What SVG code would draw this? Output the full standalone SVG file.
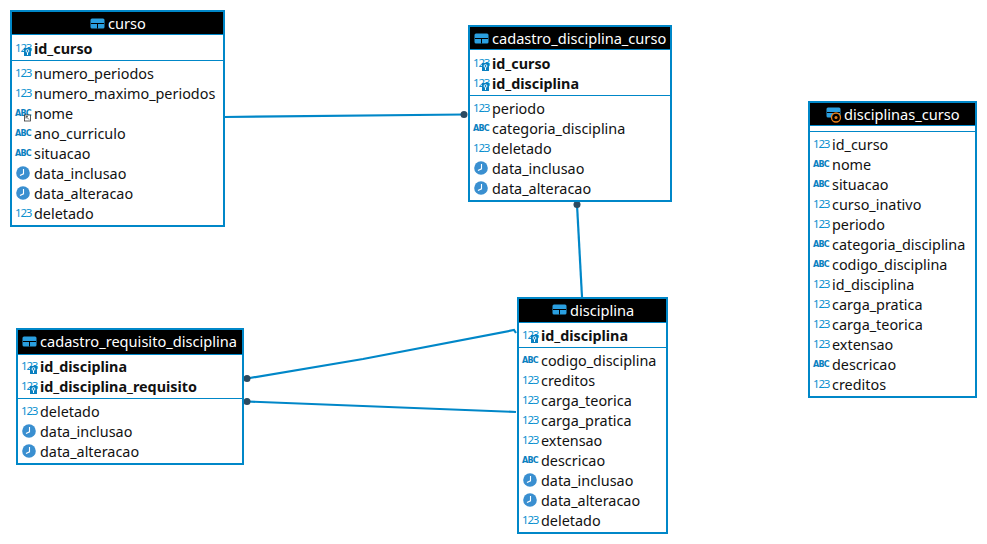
<svg xmlns="http://www.w3.org/2000/svg" xmlns:xlink="http://www.w3.org/1999/xlink" width="987" height="544" viewBox="0 0 987 544">
<style>
text{font-family:"Noto Sans","Open Sans","Liberation Sans",sans-serif}
.box{fill:#fff;stroke:#0087c8;stroke-width:2}
.hd{fill:#000}
.sep{stroke:#0087c8;stroke-width:1;fill:none}
.t{fill:#fff;font-size:14.6px}
.r{fill:#111;font-size:14.4px}
.k{fill:#111;font-size:14.35px;font-weight:700}
.n{fill:#0a8fd0;font-size:11.5px;letter-spacing:-1.2px}
.a{fill:#0a80c0;font-size:8px;font-weight:700;font-family:"DejaVu Sans",sans-serif;letter-spacing:-.8px}
.c{stroke:#0087c8;stroke-width:2.2;fill:none}
.d{fill:#2c4a60}
</style>
<defs>
<g id="clock"><circle cx="7" cy="7" r="6.8" fill="#3a8fd0"/><path d="M7.5 3v4.8L4 9.6" stroke="#fff" stroke-width="1.1" fill="none"/></g>
<g id="key"><rect width="7" height="8" fill="#0a80c0"/><circle cx="3.500" cy="3" r="1.400" fill="none" stroke="#fff" stroke-width=".9"/><path d="M3.500 4.500V7" stroke="#fff"/></g>
<g id="tbl"><rect x=".5" y=".5" width="14" height="10" rx="1.500" fill="#2a9fe0"/><path d="M1 5.500H14M7.500 5.500V10.500" stroke="#000" stroke-width="1"/></g>
</defs>
<g id="connectors">
<path class="c" d="M224 117L464 114.500"/><circle class="d" cx="464" cy="114.500" r="3.500"/>
<path class="c" d="M582 297L577 204.500"/><circle class="d" cx="577" cy="204.500" r="3.500"/>
<path class="c" d="M247 378.500L363 359L514 330L516 333"/><circle class="d" cx="247" cy="378.500" r="3.500"/>
<path class="c" d="M247 401.500L516 412"/><circle class="d" cx="247" cy="401.500" r="3.500"/>
</g>
<g id="curso">
<rect class="box" x="11" y="11" width="213" height="215"/><rect class="hd" x="12" y="12" width="211" height="22"/>
<path class="sep" d="M12 34.500H223M12 60.500H223"/>
<use href="#tbl" x="90" y="18"/><text class="t" x="108" y="29">curso</text>
<text class="n" x="15" y="52">123</text><use href="#key" x="24" y="48"/><text class="k" x="34" y="54">id_curso</text>
<text class="n" x="15" y="77">123</text><text class="r" x="34" y="79">numero_periodos</text>
<text class="n" x="15" y="97">123</text><text class="r" x="34" y="99">numero_maximo_periodos</text>
<text class="a" x="15" y="116">ABC</text><rect x="24.500" y="115" width="6" height="6" fill="#fff" stroke="#333" stroke-width=".8"/><path d="M26 116.500L29 119.500M26 116.500H28M26 116.500V118.500" stroke="#333" stroke-width=".7" fill="none"/><text class="r" x="34" y="119">nome</text>
<text class="a" x="15" y="136">ABC</text><text class="r" x="34" y="139">ano_curriculo</text>
<text class="a" x="15" y="156">ABC</text><text class="r" x="34" y="159">situacao</text>
<use href="#clock" x="16" y="166"/><text class="r" x="34" y="179">data_inclusao</text>
<use href="#clock" x="16" y="186"/><text class="r" x="34" y="199">data_alteracao</text>
<text class="n" x="15" y="217">123</text><text class="r" x="34" y="219">deletado</text>
</g>
<g id="cadastro_disciplina_curso">
<rect class="box" x="469" y="26" width="202" height="175"/><rect class="hd" x="470" y="27" width="200" height="22"/>
<path class="sep" d="M470 49.500H670M470 95.500H670"/>
<use href="#tbl" x="474" y="33"/><text class="t" x="492" y="44">cadastro_disciplina_curso</text>
<text class="n" x="473" y="67">123</text><use href="#key" x="482" y="63"/><text class="k" x="492" y="69">id_curso</text>
<text class="n" x="473" y="87">123</text><use href="#key" x="482" y="83"/><text class="k" x="492" y="89">id_disciplina</text>
<text class="n" x="473" y="112">123</text><text class="r" x="492" y="114">periodo</text>
<text class="a" x="473" y="131">ABC</text><text class="r" x="492" y="134">categoria_disciplina</text>
<text class="n" x="473" y="152">123</text><text class="r" x="492" y="154">deletado</text>
<use href="#clock" x="474" y="161"/><text class="r" x="492" y="174">data_inclusao</text>
<use href="#clock" x="474" y="181"/><text class="r" x="492" y="194">data_alteracao</text>
</g>
<g id="disciplinas_curso">
<rect class="box" x="809" y="102" width="167" height="295"/><rect class="hd" x="810" y="103" width="165" height="22"/>
<path class="sep" d="M810 125.500H975M810 131.500H975"/>
<use href="#tbl" x="826" y="107"/><circle cx="836" cy="117.500" r="4.500" fill="#000" stroke="#e8801a" stroke-width="1.300"/><circle cx="836" cy="117.500" r="1.500" fill="#e8801a"/><text class="t" x="844" y="120">disciplinas_curso</text>
<text class="n" x="813" y="148">123</text><text class="r" x="832" y="150">id_curso</text>
<text class="a" x="813" y="167">ABC</text><text class="r" x="832" y="170">nome</text>
<text class="a" x="813" y="187">ABC</text><text class="r" x="832" y="190">situacao</text>
<text class="n" x="813" y="208">123</text><text class="r" x="832" y="210">curso_inativo</text>
<text class="n" x="813" y="228">123</text><text class="r" x="832" y="230">periodo</text>
<text class="a" x="813" y="247">ABC</text><text class="r" x="832" y="250">categoria_disciplina</text>
<text class="a" x="813" y="267">ABC</text><text class="r" x="832" y="270">codigo_disciplina</text>
<text class="n" x="813" y="288">123</text><text class="r" x="832" y="290">id_disciplina</text>
<text class="n" x="813" y="308">123</text><text class="r" x="832" y="310">carga_pratica</text>
<text class="n" x="813" y="328">123</text><text class="r" x="832" y="330">carga_teorica</text>
<text class="n" x="813" y="348">123</text><text class="r" x="832" y="350">extensao</text>
<text class="a" x="813" y="367">ABC</text><text class="r" x="832" y="370">descricao</text>
<text class="n" x="813" y="388">123</text><text class="r" x="832" y="390">creditos</text>
</g>
<g id="cadastro_requisito_disciplina">
<rect class="box" x="17" y="329" width="226" height="135"/><rect class="hd" x="18" y="330" width="224" height="24"/>
<path class="sep" d="M18 354.500H242M18 398.500H242"/>
<use href="#tbl" x="22" y="336"/><text class="t" x="40" y="347">cadastro_requisito_disciplina</text>
<text class="n" x="21" y="370">123</text><use href="#key" x="30" y="366"/><text class="k" x="40" y="372">id_disciplina</text>
<text class="n" x="21" y="390">123</text><use href="#key" x="30" y="386"/><text class="k" x="40" y="392">id_disciplina_requisito</text>
<text class="n" x="21" y="415">123</text><text class="r" x="40" y="417">deletado</text>
<use href="#clock" x="22" y="424"/><text class="r" x="40" y="437">data_inclusao</text>
<use href="#clock" x="22" y="444"/><text class="r" x="40" y="457">data_alteracao</text>
</g>
<g id="disciplina">
<rect class="box" x="518" y="298" width="149" height="235"/><rect class="hd" x="519" y="299" width="147" height="23"/>
<path class="sep" d="M519 322.500H666M519 347.500H666"/>
<use href="#tbl" x="552" y="304"/><text class="t" x="570" y="316">disciplina</text>
<text class="n" x="522" y="339">123</text><use href="#key" x="531" y="335"/><text class="k" x="541" y="341">id_disciplina</text>
<text class="a" x="522" y="363">ABC</text><text class="r" x="541" y="366">codigo_disciplina</text>
<text class="n" x="522" y="384">123</text><text class="r" x="541" y="386">creditos</text>
<text class="n" x="522" y="404">123</text><text class="r" x="541" y="406">carga_teorica</text>
<text class="n" x="522" y="424">123</text><text class="r" x="541" y="426">carga_pratica</text>
<text class="n" x="522" y="444">123</text><text class="r" x="541" y="446">extensao</text>
<text class="a" x="522" y="463">ABC</text><text class="r" x="541" y="466">descricao</text>
<use href="#clock" x="523" y="473"/><text class="r" x="541" y="486">data_inclusao</text>
<use href="#clock" x="523" y="493"/><text class="r" x="541" y="506">data_alteracao</text>
<text class="n" x="522" y="524">123</text><text class="r" x="541" y="526">deletado</text>
</g>
</svg>
